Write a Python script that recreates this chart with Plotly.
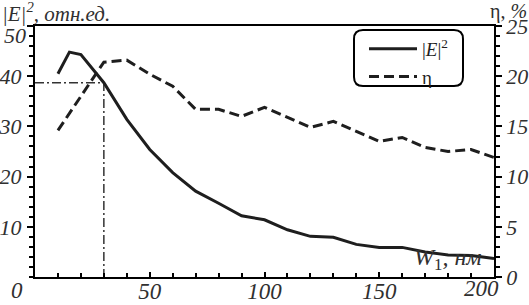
import plotly.graph_objects as go

# ---- data ----
w_e = [10, 15, 20, 30, 40, 50, 60, 70, 80, 90, 100, 110, 120, 130, 140, 150, 160, 170, 180, 190, 200]
e_vals = [40.5, 44.8, 44.3, 38.7, 31.4, 25.4, 20.8, 17.1, 14.7, 12.2, 11.4, 9.4, 8.1, 7.9, 6.5, 5.9, 5.9, 5.0, 4.4, 4.3, 3.7]

w_eta = [10, 30, 40, 50, 60, 70, 80, 90, 100, 110, 120, 130, 140, 150, 160, 170, 180, 190, 200]
eta_vals = [14.6, 21.4, 21.6, 20.2, 19.0, 16.7, 16.7, 16.0, 16.9, 15.9, 14.9, 15.5, 14.5, 13.5, 13.9, 12.9, 12.5, 12.7, 11.9]

guide_w = 30
guide_e = 38.7

x_tickvals = [50, 100, 150, 200]
x_ticktext = ["50", "100", "150", ""]
yl_tickvals = [10, 20, 30, 40, 50]
yl_ticktext = ["10", "20", "30", "40", ""]
yr_tickvals = [0, 5, 10, 15, 20, 25]

FONT = "Liberation Serif"
INK = "#1e1e1e"
LBL = "#303030"

# plot area geometry (px)
L, R, T, B = 35, 35, 26, 28
W, H = 529, 305
PW, PH = W - L - R, H - T - B

def px(x):
    return (x - L) / PW

def py(y):
    return (H - B - y) / PH

fig = go.Figure()

fig.add_trace(go.Scatter(
    x=[0, guide_w, guide_w], y=[guide_e, guide_e, 0], mode="lines",
    line=dict(color="#333333", width=1.5, dash="9px,3px,2px,3px"),
    showlegend=False, hoverinfo="skip"))

fig.add_trace(go.Scatter(
    x=w_e, y=e_vals, mode="lines", name="|<i>E</i>|<sup>2</sup>",
    line=dict(color=INK, width=3)))

fig.add_trace(go.Scatter(
    x=w_eta, y=eta_vals, mode="lines", name="η", yaxis="y2",
    line=dict(color=INK, width=3, dash="10px,5px")))

tickfont = dict(family=FONT, size=23, color=LBL, style="italic")
ytickfont = dict(family=FONT, size=22, color=LBL, style="italic")

fig.update_layout(
    template="none",
    width=W, height=H,
    margin=dict(l=L, r=R, t=T, b=B, autoexpand=False),
    paper_bgcolor="white", plot_bgcolor="white",
    font=dict(family=FONT, size=22, color=INK),
    showlegend=True,
    legend=dict(x=px(364), y=py(30), xanchor="left", yanchor="top",
                bgcolor="rgba(0,0,0,0)", borderwidth=0,
                font=dict(family=FONT, size=19, color=INK),
                itemwidth=48, tracegroupgap=0),
    xaxis=dict(range=[0, 200], showgrid=False, zeroline=False, automargin=False,
               showline=True, linecolor="black", linewidth=2, mirror=True,
               ticks="inside", ticklen=5, tickcolor="black", tickwidth=1.5,
               tickvals=x_tickvals, ticktext=x_ticktext, tickfont=tickfont,
               ticklabelstandoff=-8,
               minor=dict(dtick=10, tick0=0, ticks="inside", ticklen=4, tickcolor="black", tickwidth=1.5)),
    yaxis=dict(range=[0, 50], showgrid=False, zeroline=False, automargin=False,
               showline=True, linecolor="black", linewidth=2,
               ticks="outside", ticklen=6, tickcolor="black", tickwidth=1.5,
               tickvals=yl_tickvals, ticktext=yl_ticktext, tickfont=ytickfont, ticklabelstandoff=1,
               minor=dict(dtick=2, tick0=0, ticks="outside", ticklen=4, tickcolor="black", tickwidth=1.5)),
    yaxis2=dict(range=[0, 25], overlaying="y", side="right", showgrid=False, zeroline=False,
                automargin=False,
                showline=True, linecolor="black", linewidth=1.5,
                ticks="outside", ticklen=6, tickcolor="black", tickwidth=1.5,
                tickvals=yr_tickvals, tickfont=ytickfont,
                minor=dict(dtick=1, tick0=0, ticks="outside", ticklen=4, tickcolor="black", tickwidth=1.5)),
)

# rounded legend box
x0, x1, y0, y1 = px(354), px(463), py(86), py(30)
rx, ry = 9 / PW, 9 / PH
path = (f"M {x0+rx},{y0} L {x1-rx},{y0} Q {x1},{y0} {x1},{y0+ry} "
        f"L {x1},{y1-ry} Q {x1},{y1} {x1-rx},{y1} L {x0+rx},{y1} "
        f"Q {x0},{y1} {x0},{y1-ry} L {x0},{y0+ry} Q {x0},{y0} {x0+rx},{y0} Z")
fig.add_shape(type="path", path=path, xref="paper", yref="paper",
              line=dict(color="black", width=2))

ann_font = dict(family=FONT, size=23, color=LBL, style="italic")
fig.add_annotation(text="|<i>E</i>|<sup>2</sup>, <i>отн.ед.</i>", xref="paper", yref="paper",
                   x=px(0), y=py(12), xanchor="left", yanchor="middle", showarrow=False,
                   font=dict(family=FONT, size=21, color=LBL, style="italic"))
fig.add_annotation(text="η, <i>%</i>", xref="paper", yref="paper",
                   x=px(529), y=py(11), xanchor="right", yanchor="middle", showarrow=False,
                   font=dict(family=FONT, size=20, color=LBL))
fig.add_annotation(text="<i>W</i><sub>1</sub><i>, нм</i>", xref="paper", yref="paper",
                   x=px(484), y=py(259), xanchor="right", yanchor="middle", showarrow=False,
                   font=dict(family=FONT, size=24, color=LBL))
fig.add_annotation(text="0", xref="paper", yref="paper",
                   x=px(17), y=py(290), xanchor="center", yanchor="middle", showarrow=False, font=ann_font)
fig.add_annotation(text="200", xref="paper", yref="paper",
                   x=px(481), y=py(288), xanchor="center", yanchor="middle", showarrow=False, font=ann_font)
fig.add_annotation(text="50", xref="paper", yref="paper",
                   x=px(28), y=py(36), xanchor="right", yanchor="middle", showarrow=False, font=ytickfont)

fig.write_html("out.html", config={"displayModeBar": False},
               post_script="document.body.style.margin='0';document.body.style.padding='0';")
